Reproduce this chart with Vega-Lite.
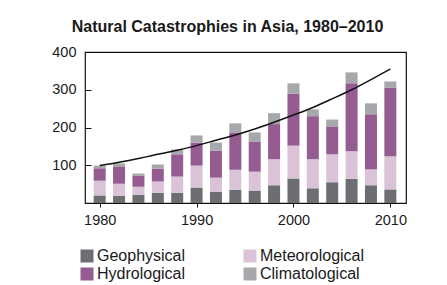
{
  "$schema": "https://vega.github.io/schema/vega-lite/v6.json",
  "autosize": {"type": "none"},
  "width": 321,
  "height": 151,
  "padding": {"left": 85, "top": 52, "right": 41, "bottom": 82},
  "background": "white",
  "title": {
    "text": "Natural Catastrophies in Asia, 1980–2010",
    "font": "Liberation Sans",
    "fontSize": 16,
    "fontWeight": "bold",
    "color": "#1a1a1a",
    "anchor": "middle",
    "dx": -18,
    "baseline": "alphabetic",
    "offset": -4
  },
  "config": {
    "view": {"stroke": "#111", "strokeWidth": 1.2},
    "font": "Liberation Sans"
  },
  "datasets": {
    "bars": [
      {"year": 1980, "type": "Geophysical", "value": 20},
      {"year": 1980, "type": "Meteorological", "value": 39},
      {"year": 1980, "type": "Hydrological", "value": 33},
      {"year": 1980, "type": "Climatological", "value": 7},
      {"year": 1982, "type": "Geophysical", "value": 19},
      {"year": 1982, "type": "Meteorological", "value": 32},
      {"year": 1982, "type": "Hydrological", "value": 46},
      {"year": 1982, "type": "Climatological", "value": 8},
      {"year": 1984, "type": "Geophysical", "value": 22},
      {"year": 1984, "type": "Meteorological", "value": 21},
      {"year": 1984, "type": "Hydrological", "value": 30},
      {"year": 1984, "type": "Climatological", "value": 5},
      {"year": 1986, "type": "Geophysical", "value": 27},
      {"year": 1986, "type": "Meteorological", "value": 30},
      {"year": 1986, "type": "Hydrological", "value": 34},
      {"year": 1986, "type": "Climatological", "value": 11},
      {"year": 1988, "type": "Geophysical", "value": 27},
      {"year": 1988, "type": "Meteorological", "value": 43},
      {"year": 1988, "type": "Hydrological", "value": 59},
      {"year": 1988, "type": "Climatological", "value": 13},
      {"year": 1990, "type": "Geophysical", "value": 41},
      {"year": 1990, "type": "Meteorological", "value": 58},
      {"year": 1990, "type": "Hydrological", "value": 61},
      {"year": 1990, "type": "Climatological", "value": 19},
      {"year": 1992, "type": "Geophysical", "value": 30},
      {"year": 1992, "type": "Meteorological", "value": 37},
      {"year": 1992, "type": "Hydrological", "value": 72},
      {"year": 1992, "type": "Climatological", "value": 21},
      {"year": 1994, "type": "Geophysical", "value": 35},
      {"year": 1994, "type": "Meteorological", "value": 53},
      {"year": 1994, "type": "Hydrological", "value": 99},
      {"year": 1994, "type": "Climatological", "value": 24},
      {"year": 1996, "type": "Geophysical", "value": 33},
      {"year": 1996, "type": "Meteorological", "value": 50},
      {"year": 1996, "type": "Hydrological", "value": 80},
      {"year": 1996, "type": "Climatological", "value": 24},
      {"year": 1998, "type": "Geophysical", "value": 47},
      {"year": 1998, "type": "Meteorological", "value": 69},
      {"year": 1998, "type": "Hydrological", "value": 93},
      {"year": 1998, "type": "Climatological", "value": 29},
      {"year": 2000, "type": "Geophysical", "value": 65},
      {"year": 2000, "type": "Meteorological", "value": 87},
      {"year": 2000, "type": "Hydrological", "value": 138},
      {"year": 2000, "type": "Climatological", "value": 27},
      {"year": 2002, "type": "Geophysical", "value": 39},
      {"year": 2002, "type": "Meteorological", "value": 77},
      {"year": 2002, "type": "Hydrological", "value": 114},
      {"year": 2002, "type": "Climatological", "value": 18},
      {"year": 2004, "type": "Geophysical", "value": 55},
      {"year": 2004, "type": "Meteorological", "value": 74},
      {"year": 2004, "type": "Hydrological", "value": 74},
      {"year": 2004, "type": "Climatological", "value": 18},
      {"year": 2006, "type": "Geophysical", "value": 64},
      {"year": 2006, "type": "Meteorological", "value": 73},
      {"year": 2006, "type": "Hydrological", "value": 180},
      {"year": 2006, "type": "Climatological", "value": 29},
      {"year": 2008, "type": "Geophysical", "value": 47},
      {"year": 2008, "type": "Meteorological", "value": 42},
      {"year": 2008, "type": "Hydrological", "value": 146},
      {"year": 2008, "type": "Climatological", "value": 29},
      {"year": 2010, "type": "Geophysical", "value": 36},
      {"year": 2010, "type": "Meteorological", "value": 88},
      {"year": 2010, "type": "Hydrological", "value": 181},
      {"year": 2010, "type": "Climatological", "value": 17}
    ],
    "trend": [
      {"year": 1980, "value": 99},
      {"year": 1982, "value": 108},
      {"year": 1984, "value": 118},
      {"year": 1986, "value": 129},
      {"year": 1988, "value": 140},
      {"year": 1990, "value": 152},
      {"year": 1992, "value": 166},
      {"year": 1994, "value": 180},
      {"year": 1996, "value": 196},
      {"year": 1998, "value": 214},
      {"year": 2000, "value": 233},
      {"year": 2002, "value": 253},
      {"year": 2004, "value": 276},
      {"year": 2006, "value": 300},
      {"year": 2008, "value": 327},
      {"year": 2010, "value": 355}
    ]
  },
  "layer": [
    {
      "data": {"name": "bars"},
      "transform": [
        {"calculate": "indexof(['Geophysical','Meteorological','Hydrological','Climatological'], datum.type)", "as": "stackOrder"}
      ],
      "mark": {"type": "bar", "size": 12},
      "encoding": {
        "x": {
          "field": "year",
          "type": "quantitative",
          "scale": {"domain": [1979, 2011.1], "nice": false, "zero": false},
          "axis": {
            "title": null,
            "values": [1980, 1990, 2000, 2010],
            "format": "d",
            "domain": false,
            "grid": false,
            "tickSize": 4,
            "tickColor": "#111",
            "labelPadding": 6,
            "labelFontSize": 14.5,
            "labelColor": "#1a1a1a"
          }
        },
        "y": {
          "field": "value",
          "type": "quantitative",
          "stack": "zero",
          "scale": {"domain": [0, 400], "nice": false},
          "axis": {
            "title": null,
            "values": [100, 200, 300, 400],
            "domain": false,
            "grid": false,
            "tickSize": -6,
            "tickColor": "#111",
            "labelPadding": 15,
            "labelFontSize": 14.5,
            "labelColor": "#1a1a1a"
          }
        },
        "color": {
          "field": "type",
          "type": "nominal",
          "scale": {
            "domain": ["Geophysical", "Meteorological", "Hydrological", "Climatological"],
            "range": ["#6d6e71", "#dac3d7", "#955c92", "#a7a8ab"]
          },
          "legend": {
            "title": null,
            "orient": "none",
            "legendX": -6,
            "legendY": 196,
            "direction": "horizontal",
            "columns": 2,
            "columnPadding": 56,
            "rowPadding": 2,
            "symbolType": "square",
            "symbolSize": 169,
            "symbolStrokeWidth": 0,
            "labelFontSize": 16,
            "labelColor": "#1a1a1a",
            "labelOffset": 2
          }
        },
        "order": {"field": "stackOrder", "type": "quantitative"}
      }
    },
    {
      "data": {"name": "trend"},
      "mark": {"type": "line", "color": "#111", "strokeWidth": 1.5, "interpolate": "monotone"},
      "encoding": {
        "x": {"field": "year", "type": "quantitative"},
        "y": {"field": "value", "type": "quantitative"}
      }
    }
  ]
}
